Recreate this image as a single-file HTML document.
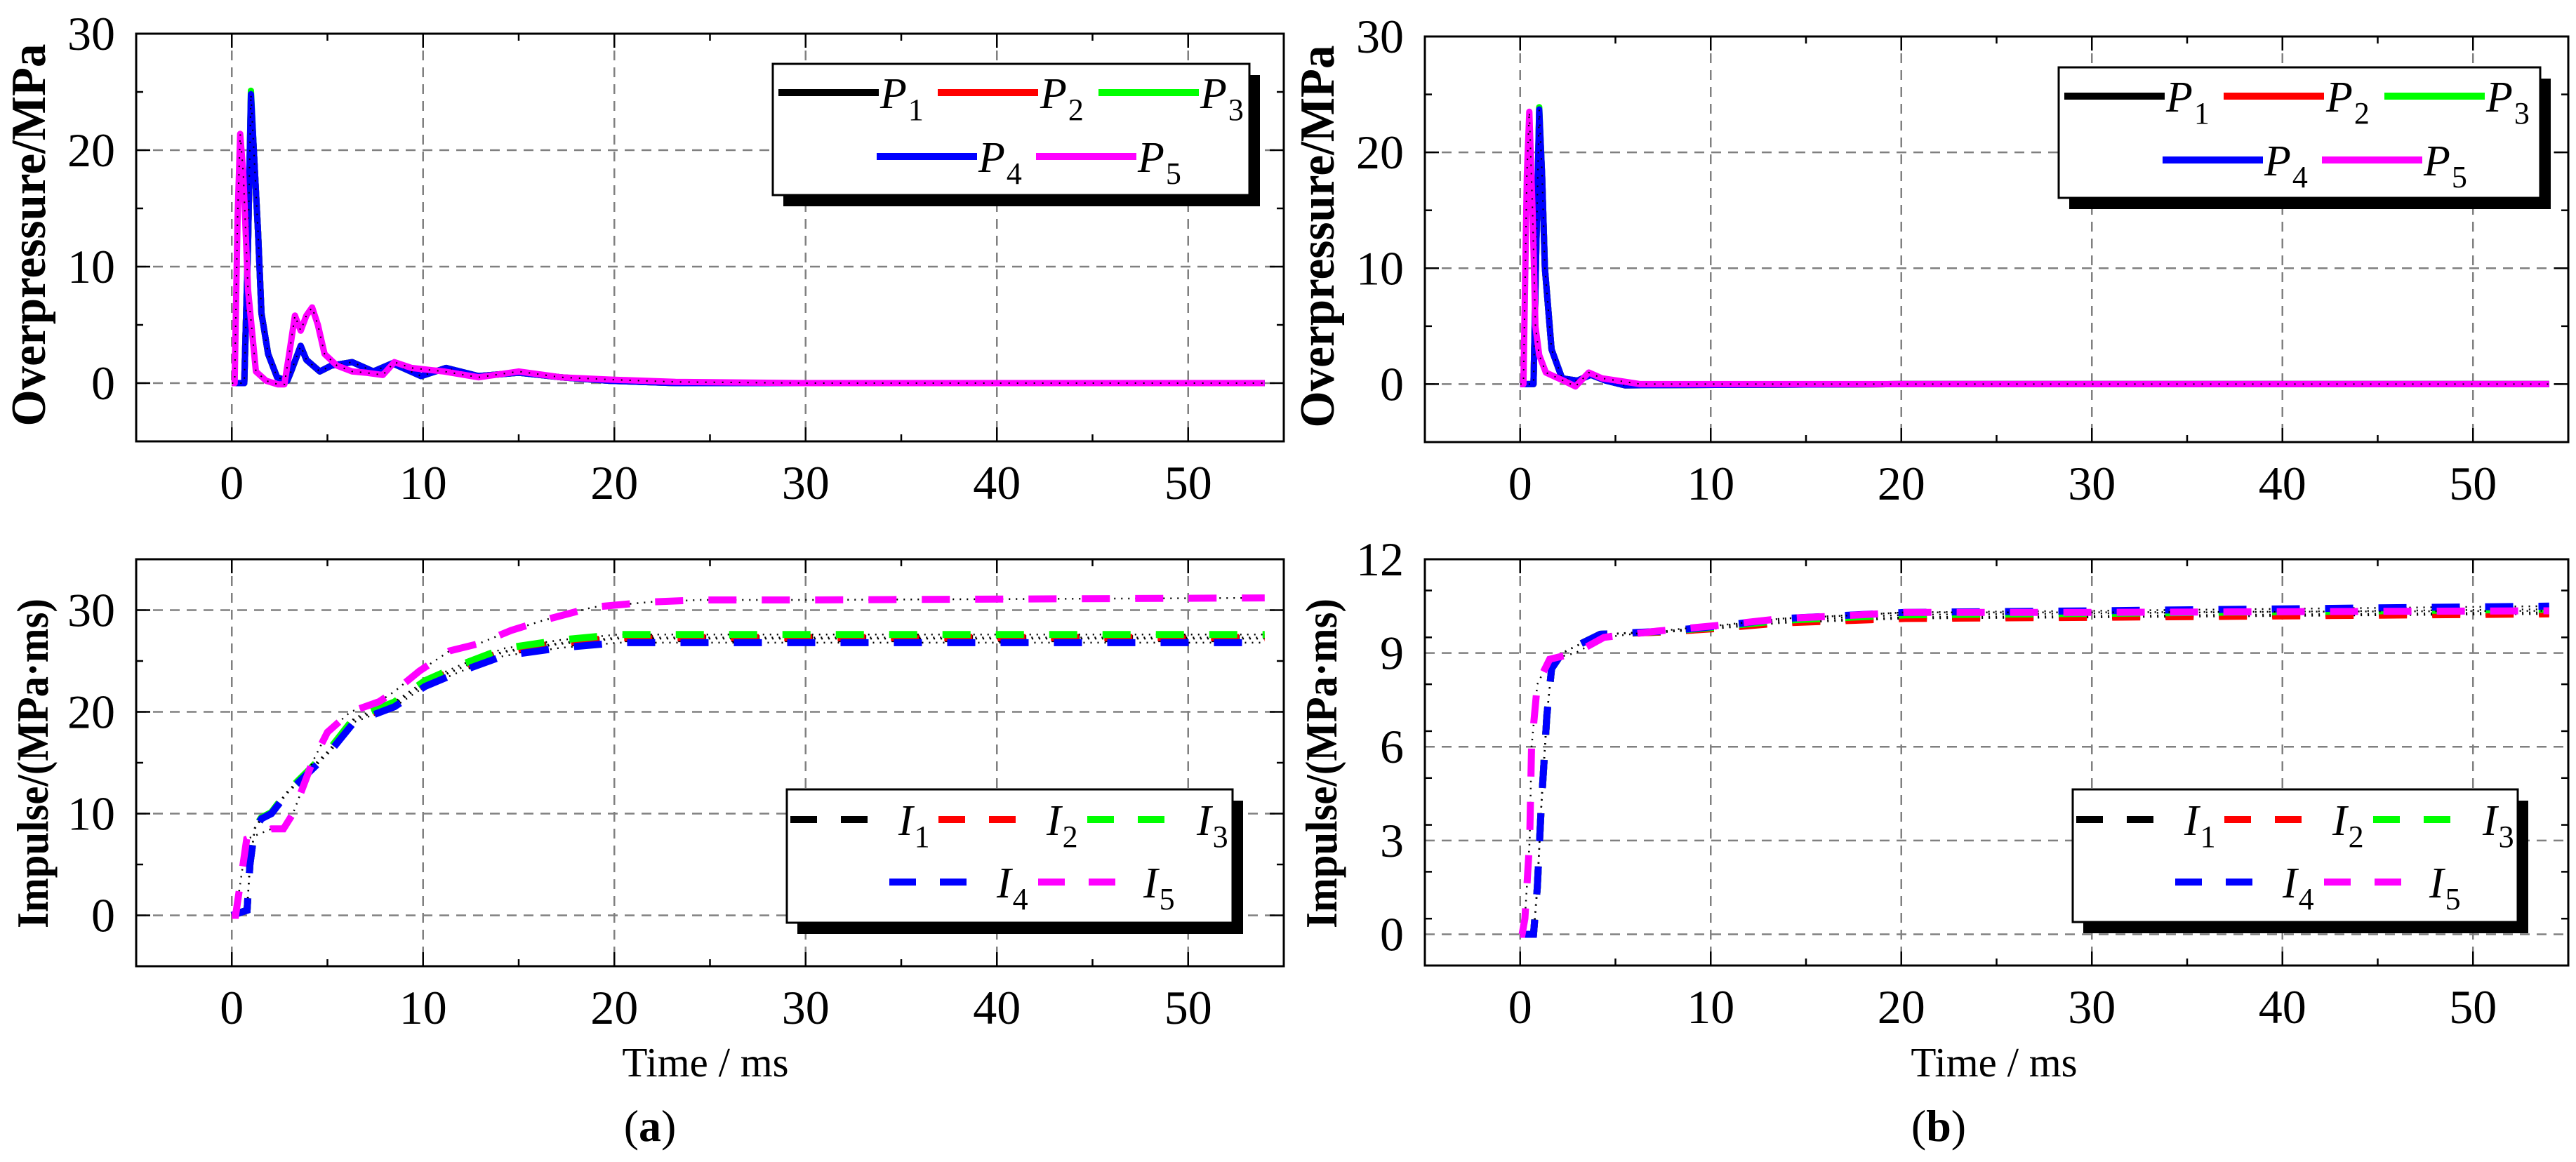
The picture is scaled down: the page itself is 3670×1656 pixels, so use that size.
<!DOCTYPE html>
<html><head><meta charset="utf-8"><style>
html,body{margin:0;padding:0;background:#fff;}
svg{display:block;}
text{font-family:"Liberation Serif",serif;fill:#000;}
</style></head><body>
<svg id="fig" xmlns="http://www.w3.org/2000/svg" width="3670" height="1656" viewBox="0 0 3670 1656"></svg>
<script>
// ---------- data ----------
const paT5=[0,0.15,0.3,0.44,0.6,0.85,1.26,1.8,2.4,2.75,3.0,3.3,3.6,3.9,4.2,4.5,4.85,5.5,6.3,7.0,7.9,8.5,9.4,10.5,11.1,12.9,15,17.2,19.8,23.2,30,40,54];
const paV5=[0,0,14,21.4,18,8,1.0,0.2,-0.1,-0.1,2.5,5.8,4.5,5.8,6.5,5.0,2.5,1.5,1.0,0.9,0.7,1.8,1.3,1.1,1.0,0.5,1.0,0.5,0.3,0.1,0,0,0];
const paT4=[0,0.65,0.85,1.0,1.15,1.37,1.55,1.9,2.37,2.9,3.1,3.6,3.9,4.6,5.2,6.3,7.4,8.4,9.9,11.2,12.9,15,17.2,19.8,23.2,30,40,54];
const paV4=[0,0,12,24.8,20,13,6,2.5,0.5,0.2,1.0,3.2,2.0,1.0,1.5,1.8,1.0,1.7,0.6,1.3,0.6,0.9,0.5,0.2,0,0,0,0];
const paPeak=[24.3,24.5,25.1,24.8];
const pbT5=[0,0.17,0.35,0.48,0.65,0.8,1.0,1.35,2.4,2.9,3.6,4.3,5.5,6.3,20,40,54];
const pbV5=[0,0,18,23.5,15,5,2.5,1.0,0.2,-0.2,1.0,0.5,0.2,0,0,0,0];
const pbT4=[0,0.7,0.85,1.0,1.15,1.3,1.65,2.2,3.0,3.7,4.5,5.5,20,40,54];
const pbV4=[0,0,12,23.7,18,10,3,0.5,0.3,0.8,0.3,-0.1,0,0,0];
const pbPeak=[23.4,23.5,23.9,23.7];
const iaT5=[0,0.2,0.78,2.07,2.7,3.2,4.2,5.0,6.2,7.7,8.5,9.8,11.4,12.9,14.6,16.3,18.9,21.9,24.5,30,54];
const iaV5=[0,0,7.5,8.5,8.5,10,15,18,20,21,22,24,26,26.7,28,29,30.3,30.8,31,31,31.2];
const iaT4=[0,0.8,0.95,1.2,1.55,2.07,2.9,4.0,5.1,6.4,8.5,10.1,12,14.2,17.2,20.2,23.7,30,54];
const iaV4=[0,0.5,5,8.5,9.5,10,12,14,16,19,20.5,22.5,24,25.5,26.3,26.8,26.8,26.8,26.8];
const iaFinal=[27.2,27.3,27.6,26.8];
const ibT5=[0,0.1,0.25,0.5,0.6,0.9,1.55,2.9,4.4,7.2,10.7,13.7,17.2,20.2,30,54];
const ibV5=[0,0,0.5,3,6,8,8.8,9.0,9.5,9.7,9.9,10.1,10.2,10.3,10.3,10.35];
const ibT4=[0,0.7,0.9,1.1,1.4,1.65,2.2,4.2,7.6,10.2,13.7,20.2,30,54];
const ibV4=[0,0,1.5,4,7,8.5,9.0,9.6,9.7,9.85,10.1,10.3,10.35,10.5];
const ibFinal=[10.3,10.25,10.4,10.5];
const xTicks=[0,10,20,30,40,50];
const yTicksP=[0,10,20,30];
const yTicksIa=[0,10,20,30];
const yTicksIb=[0,3,6,9,12];
const colors=['#000000','#ff0000','#00ff00','#0000ff','#ff00ff'];

const NS='http://www.w3.org/2000/svg';
const svg=document.getElementById('fig');
function mk(tag,attrs,parent){const e=document.createElementNS(NS,tag);for(const k in attrs)e.setAttribute(k,attrs[k]);(parent||svg).appendChild(e);return e;}

function panel(name,x0,x1,y0,y1,xd,yd,yt,yMinorStep){
  const g=mk('g',{});
  
  
  const sx=v=>x0+(v-xd[0])/(xd[1]-xd[0])*(x1-x0);
  const sy=v=>y1-(v-yd[0])/(yd[1]-yd[0])*(y1-y0);
  xTicks.forEach(t=>{const l=mk('line',{x1:sx(t),x2:sx(t),y1:y0,y2:y1,stroke:'#808080','stroke-width':2.5,'stroke-dasharray':'14 10'},g);
    });
  yt.forEach(t=>{const l=mk('line',{x1:x0,x2:x1,y1:sy(t),y2:sy(t),stroke:'#808080','stroke-width':2.5,'stroke-dasharray':'14 10'},g);
    });
  for(let t=-5;t<=55;t+=5){const maj=t%10===0;const L=maj?20:10;const x=sx(t);if(x<=x0+1||x>=x1-1)continue;
    mk('line',{x1:x,x2:x,y1:y1,y2:y1-L,stroke:'#000','stroke-width':2.5},g);
    mk('line',{x1:x,x2:x,y1:y0,y2:y0+L,stroke:'#000','stroke-width':2.5},g);}
  for(let v=yd[0];v<=yd[1]+1e-6;v+=yMinorStep){const maj=yt.some(t=>Math.abs(t-v)<1e-6);const L=maj?20:10;const y=sy(v);if(y<=y0+1||y>=y1-1)continue;
    mk('line',{x1:x0,x2:x0+L,y1:y,y2:y,stroke:'#000','stroke-width':2.5},g);
    mk('line',{x1:x1,x2:x1-L,y1:y,y2:y,stroke:'#000','stroke-width':2.5},g);}
  xTicks.forEach(t=>{const tx=mk('text',{x:sx(t),y:y1+82,'font-size':68,'text-anchor':'middle'},g);tx.textContent=t;
    });
  yt.forEach(t=>{const tx=mk('text',{x:x0-30,y:sy(t)+23,'font-size':68,'text-anchor':'end'},g);tx.textContent=t;
    });
  const frame=mk('rect',{x:x0,y:y0,width:x1-x0,height:y1-y0,fill:'none',stroke:'#000','stroke-width':3},g);
  
  return {g,sx,sy,x0,x1,y0,y1};
}
function pathD(p,ts,vs){return ts.map((t,i)=>(i?'L':'M')+p.sx(t).toFixed(1)+','+p.sy(vs[i]).toFixed(1)).join(' ');}
function clipFor(p,id){const d=mk('clipPath',{id:id});mk('rect',{x:p.x0,y:p.y0,width:p.x1-p.x0,height:p.y1-p.y0},d);return 'url(#'+id+')';}
function solid(p,ts,vs,c,name,clip){const e=mk('path',{d:pathD(p,ts,vs),fill:'none',stroke:c,'stroke-width':9,'stroke-linejoin':'round','clip-path':clip},p.g);
  
  mk('path',{d:pathD(p,ts,vs),fill:'none',stroke:'#000','stroke-width':2,'stroke-dasharray':'2 10','clip-path':clip},p.g);}
function dashed(p,ts,vs,c,name,clip){mk('path',{d:pathD(p,ts,vs),fill:'none',stroke:'#000','stroke-width':2.5,'stroke-dasharray':'2 8','clip-path':clip},p.g);
  const e=mk('path',{d:pathD(p,ts,vs),fill:'none',stroke:c,'stroke-width':10,'stroke-dasharray':'40 36','clip-path':clip},p.g);
  }
function legend(x,y,w,h,sym,dash){
  const g=mk('g',{});
  
  mk('rect',{x:x+15,y:y+16,width:w,height:h,fill:'#000'},g);
  mk('rect',{x:x,y:y,width:w,height:h,fill:'#fff',stroke:'#000','stroke-width':3},g);
  const itemsP=[[8,153,41],[235,381,41],[464,609,41],[148,293,132],[375,520,132]];
  const itemsI=[[5,159,43],[216,370,43],[428,584,43],[146,299,132],[358,508,132]];
  const items=dash?itemsI:itemsP;
  items.forEach((it,i)=>{const [lx,tx,ly]=it;
    const ln=mk('line',{x1:x+lx,x2:x+lx+(dash?121:143),y1:y+ly,y2:y+ly,stroke:colors[i],'stroke-width':10,'stroke-dasharray':dash?'38 34':'none'},g);
    
    const t=mk('text',{x:x+tx,y:y+ly+22,'font-size':62,'font-style':'italic'},g);
    t.textContent=sym;
    
    const s=mk('tspan',{'font-size':44,'font-style':'normal',dy:17,dx:2},t);s.textContent=String(i+1);
  });
}
const pA=panel('overpressure-panel-a',194,1829,48,629,[-5,55],[-5,30],yTicksP,5);
const cA=clipFor(pA,'cA');
for(let k=0;k<4;k++){const vs=paV4.map(v=>v===24.8?paPeak[k]:v);solid(pA,paT4,vs,colors[k],'series-p'+(k+1)+'-a',cA);}
solid(pA,paT5,paV5,colors[4],'series-p5-a',cA);
legend(1101,91,679,187,'P',false);
const pB=panel('overpressure-panel-b',2030,3659,52,630,[-5,55],[-5,30],yTicksP,5);
const cB=clipFor(pB,'cB');
for(let k=0;k<4;k++){const vs=pbV4.map(v=>v===23.7?pbPeak[k]:v);solid(pB,pbT4,vs,colors[k],'series-p'+(k+1)+'-b',cB);}
solid(pB,pbT5,pbV5,colors[4],'series-p5-b',cB);
legend(2933,96,686,186,'P',false);
const pC=panel('impulse-panel-a',194,1829,797,1377,[-5,55],[-5,35],yTicksIa,5);
const cC=clipFor(pC,'cC');
for(let k=0;k<4;k++){const f=iaFinal[k]/26.8;const vs=iaV4.map(v=>v*(1+(f-1)*Math.min(1,v/26.8)));dashed(pC,iaT4,vs,colors[k],'series-i'+(k+1)+'-a',cC);}
dashed(pC,iaT5,iaV5,colors[4],'series-i5-a',cC);
legend(1121,1125,635,190,'I',true);
const pD=panel('impulse-panel-b',2030,3659,797,1376,[-5,55],[-1,12],yTicksIb,1.5);
const cD=clipFor(pD,'cD');
for(let k=0;k<4;k++){const vs=ibV4.map(v=>v>9.6?9.6+(v-9.6)*(ibFinal[k]-9.6)/(10.5-9.6):v);dashed(pD,ibT4,vs,colors[k],'series-i'+(k+1)+'-b',cD);}
dashed(pD,ibT5,ibV5,colors[4],'series-i5-b',cD);
legend(2953,1125,634,189,'I',true);
function txt(s,attrs,name){const t=mk('text',attrs);t.textContent=s;return t;}
txt('Overpressure/MPa',{x:0,y:0,'font-size':70,'font-weight':'bold','text-anchor':'middle',textLength:545,lengthAdjust:'spacingAndGlyphs',transform:'translate(64,335) rotate(-90)'},'y-axis-title-overpressure-a');
txt('Overpressure/MPa',{x:0,y:0,'font-size':70,'font-weight':'bold','text-anchor':'middle',textLength:545,lengthAdjust:'spacingAndGlyphs',transform:'translate(1900,337) rotate(-90)'},'y-axis-title-overpressure-b');
txt('Impulse/(MPa·ms)',{x:0,y:0,'font-size':64,'font-weight':'bold','text-anchor':'middle',textLength:470,lengthAdjust:'spacingAndGlyphs',transform:'translate(68,1088) rotate(-90)'},'y-axis-title-impulse-a');
txt('Impulse/(MPa·ms)',{x:0,y:0,'font-size':64,'font-weight':'bold','text-anchor':'middle',textLength:470,lengthAdjust:'spacingAndGlyphs',transform:'translate(1904,1088) rotate(-90)'},'y-axis-title-impulse-b');
txt('Time / ms',{x:1005,y:1534,'font-size':59,'text-anchor':'middle'},'x-axis-title-a');
txt('Time / ms',{x:2841,y:1534,'font-size':59,'text-anchor':'middle'},'x-axis-title-b');
const la=txt('(',{x:926,y:1626,'font-size':64,'text-anchor':'middle'},'caption-a');const sa=mk('tspan',{'font-weight':'bold'},la);sa.textContent='a';la.appendChild(document.createTextNode(')'));
const lb=txt('(',{x:2762,y:1626,'font-size':64,'text-anchor':'middle'},'caption-b');const sb=mk('tspan',{'font-weight':'bold'},lb);sb.textContent='b';lb.appendChild(document.createTextNode(')'));
</script>
</body></html>
